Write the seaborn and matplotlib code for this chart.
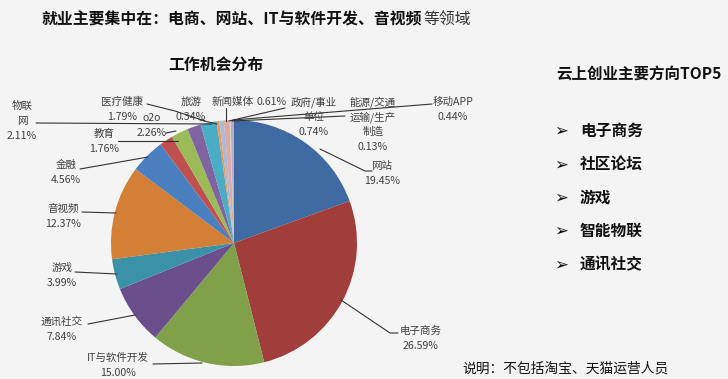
import matplotlib
matplotlib.use("Agg")
import matplotlib.pyplot as plt
import seaborn as sns

# data: slices go clockwise from 12 o'clock
categories = ["网站", "电子商务", "IT与软件开发", "通讯社交", "游戏", "音视频", "金融", "教育",
              "o2o", "医疗健康", "物联网", "旅游", "新闻媒体", "政府/事业单位",
              "能源/交通运输/生产制造", "移动APP"]
shares = [19.45, 26.59, 15.00, 7.84, 3.99, 12.37, 4.56, 1.76,
          2.26, 1.79, 2.11, 0.34, 0.61, 0.74, 0.13, 0.44]
colors = ["#3F6BA2", "#A13E3B", "#80A04A", "#6A4F8C", "#3A91A8", "#D37F36", "#4A7FC0", "#C0504D",
          "#9BBB59", "#8064A2", "#4BACC6", "#F79646", "#AABAD9", "#DBA9A8", "#C8D8A8", "#B8AACD"]
top5 = ["电子商务", "社区论坛", "游戏", "智能物联", "通讯社交"]

sns.set_style("white")
plt.rcParams['font.family'] = ['Noto Sans CJK SC', 'DejaVu Sans']

W, H = 728, 379
fig = plt.figure(figsize=(W / 100, H / 100), dpi=100)
fig.patch.set_facecolor("#F4F4F4")
ax = fig.add_axes([0, 0, 1, 1])


def py(y):
    # pixel row from top -> data y
    return H - y


ax.pie(shares, colors=colors, startangle=90, counterclock=False,
       center=(234, py(243)), radius=123, frame=True,
       wedgeprops=dict(linewidth=0))
ax.set_xlim(0, W)
ax.set_ylim(0, H)
ax.set_aspect("equal")
ax.axis("off")

# label text (lines, x, y_top) and leader (points)
labels = [
    (["网站", "19.45%"], 382, 166, [(320, 149), (365, 171), (372, 171)]),
    (["电子商务", "26.59%"], 421, 331, [(341, 300), (390, 333), (398, 333)]),
    (["IT与软件开发", "15.00%"], 118, 358, [(153, 364), (202, 363)]),
    (["通讯社交", "7.84%"], 62, 322, [(88, 324), (135, 315)]),
    (["游戏", "3.99%"], 62, 268, [(75, 272), (117, 274)]),
    (["音视频", "12.37%"], 63, 209, [(82, 212), (116, 213)]),
    (["金融", "4.56%"], 66, 165, [(80, 169), (148, 157)]),
    (["教育", "1.76%"], 104, 134, [(118, 141), (178, 141)]),
    (["o2o", "2.26%"], 152, 118, [(166, 133), (176, 131)]),
    (["医疗健康", "1.79%"], 122, 102, [(147, 104), (175, 111), (205, 121)]),
    (["物联", "网", "2.11%"], 22, 106, [(36, 123), (212, 124)]),
    (["旅游", "0.34%"], 191, 102, [(200, 120), (217, 124)]),
    (["政府/事业", "单位", "0.74%"], 314, 102, [(229, 121), (285, 108)]),
    (["能源/交通", "运输/生产", "制造", "0.13%"], 373, 102, [(232, 121), (345, 116)]),
    (["移动APP", "0.44%"], 453, 102, [(233, 120), (432, 104)]),
]
for lines, x, y, leader in labels:
    for i, t in enumerate(lines):
        ax.text(x, py(y + i * 15), t, ha="center", va="center", fontsize=7.6, color="#404040")
    ax.plot([p[0] for p in leader], [py(p[1]) for p in leader], color="#333333", lw=0.8)

# 新闻媒体 label sits on one line with its value
ax.text(233, py(102), "新闻媒体", ha="center", va="center", fontsize=7.6, color="#404040")
ax.text(272, py(102), "0.61%", ha="center", va="center", fontsize=7.6, color="#404040")
ax.plot([226, 226], [py(108), py(121)], color="#333333", lw=0.8)

# headings
head = ax.text(42, py(20), "就业主要集中在：电商、网站、IT与软件开发、音视频", ha="left", va="center",
               fontsize=11.4, fontweight="bold", color="#111111")
renderer = fig.canvas.get_renderer()
bb = head.get_window_extent(renderer)
ax.text(bb.x1 + 1, py(20), "等领域", ha="left", va="center", fontsize=11.4, color="#333333")
ax.text(216, py(65), "工作机会分布", ha="center", va="center", fontsize=11.4, fontweight="bold",
        color="#111111")

# right side top list
ax.text(556, py(74), "云上创业主要方向TOP5", ha="left", va="center", fontsize=11.2,
        fontweight="bold", color="#111111")
for i, item in enumerate(top5):
    yy = py(131 + i * 33.3)
    ax.text(554, yy, "➢", ha="left", va="center", fontsize=12, color="#111111",
            family=['DejaVu Sans'])
    ax.text(580, yy, item, ha="left", va="center", fontsize=11.3, fontweight="bold",
            color="#111111")

ax.text(462, py(369), "说明：不包括淘宝、天猫运营人员", ha="left", va="center", fontsize=9.9,
        color="#111111")

fig.savefig("out.png", dpi=100, facecolor=fig.get_facecolor())
